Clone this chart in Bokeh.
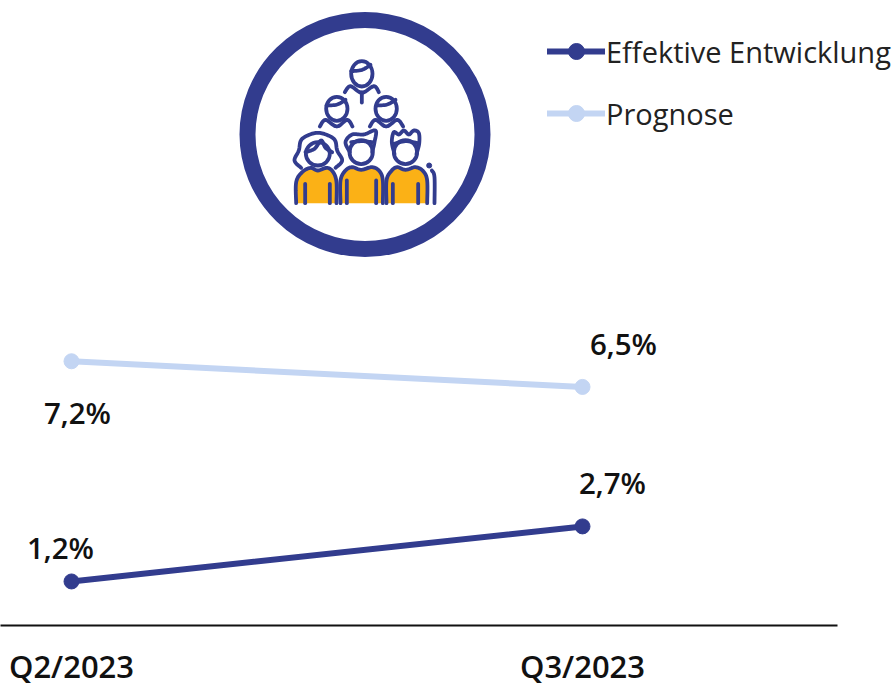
from bokeh.plotting import figure
from bokeh.models import Range1d, LinearAxis, FixedTicker, Legend, LegendItem, ColumnDataSource
from bokeh.core.properties import value
from bokeh.embed import file_html
from bokeh.resources import INLINE
import numpy as np

# ---- data
quarters = ["Q2/2023", "Q3/2023"]
x_pos = [0, 1]
effektiv = [1.2, 2.7]
prognose = [7.2, 6.5]
effektiv_labels = ["1,2%", "2,7%"]
prognose_labels = ["7,2%", "6,5%"]
effektiv_dx, effektiv_dy = [-11, 30], [-34, -44]
prognose_dx, prognose_dy = [6, 41], [51, -43]

NAVY, LIGHT, ORANGE = "#323C8E", "#C3D5F3", "#FBB116"
FONT = "Open Sans"
SEMI = "Open Sans SemiBold"

p = figure(frame_width=896, frame_height=625, output_backend="svg", toolbar_location=None,
           min_border=0, min_border_left=0, min_border_right=0, min_border_top=0,
           min_border_bottom=61, outline_line_color=None,
           x_range=Range1d(-71 / 511, (896 - 71) / 511), y_range=Range1d(0, 625 / 36.7),
           x_axis_location=None, y_axis_location=None)
p.grid.visible = False
p.extra_x_ranges["px"] = Range1d(0, 896)
p.extra_y_ranges["px"] = Range1d(625, 0)

ax = LinearAxis(ticker=FixedTicker(ticks=x_pos),
                major_label_overrides={i: q for i, q in zip(x_pos, quarters)},
                bounds=(-71 / 511, 766 / 511))
ax.major_tick_line_color = None
ax.minor_tick_line_color = None
ax.axis_line_color = "#111111"
ax.axis_line_width = 2
ax.major_label_standoff = 13
ax.major_label_text_font = SEMI
ax.major_label_text_font_size = "31px"
ax.major_label_text_color = "#111111"
p.add_layout(ax, "below")

# ---- icon, drawn in pixel space of the frame
def zx(v): return 230 + np.asarray(v, float) / 3
def zy(v): return 10 + np.asarray(v, float) / 3

def smooth(pts, closed=False, n=8):
    pts = np.asarray(pts, float)
    P = np.vstack([pts[0], pts, pts[-1]])
    out = []
    for i in range(1, len(P) - 2):
        a, b, c, d = P[i - 1], P[i], P[i + 1], P[i + 2]
        for t in np.linspace(0, 1, n, endpoint=False):
            out.append(0.5 * (2 * b + (c - a) * t + (2 * a - 5 * b + 4 * c - d) * t ** 2
                              + (3 * b - a - 3 * c + d) * t ** 3))
    out.append(P[-2])
    return np.array(out)

kw = dict(x_range_name="px", y_range_name="px")
p.ellipse(x=[364.5], y=[134], width=235, height=229, fill_color=None, line_color=NAVY, line_width=16, **kw)

bodies = [[(197, 578), (197, 515), (215, 485), (240, 472), (262, 480), (290, 472), (308, 485), (318, 515), (318, 578)],
          [(330, 578), (330, 510), (345, 480), (365, 470), (392, 478), (425, 470), (447, 482), (457, 510), (457, 578)],
          [(468, 578), (468, 510), (482, 482), (500, 470), (525, 478), (555, 470), (578, 482), (590, 510), (590, 578)]]
sm = [smooth(b) for b in bodies]
p.patches(xs=[list(zx(s[:, 0])) for s in sm], ys=[list(zy(s[:, 1])) for s in sm],
          fill_color=ORANGE, line_color=None, **kw)

strokes = bodies + [
    [(343, 245), (360, 227), (394, 247), (430, 227), (445, 245)],
    [(394, 245), (394, 276)],
    [(268, 348), (285, 328), (319, 348), (350, 328), (366, 348)],
    [(418, 348), (435, 328), (467, 348), (500, 328), (518, 348)],
    [(362, 182), (395, 178), (420, 163)],
    [(288, 285), (320, 282), (345, 268)],
    [(438, 285), (470, 282), (495, 268)],
    [(224, 520), (224, 578)], [(298, 520), (298, 578)],
    [(349, 510), (349, 578)], [(437, 510), (437, 578)],
    [(487, 520), (487, 578)], [(563, 520), (563, 578)],
    [(604, 480), (612, 500), (612, 578)],
    [(212, 472), (192, 450), (205, 420), (215, 385), (262, 367), (310, 385), (320, 420), (335, 450), (315, 472)],
    [(225, 425), (252, 415), (272, 390), (285, 412), (305, 425)],
    [(358, 425), (345, 395), (365, 372), (400, 372), (435, 360), (432, 395), (425, 425)],
    [(362, 395), (395, 392), (425, 395)],
    [(492, 430), (484, 395), (490, 365), (505, 372), (520, 360), (535, 372), (550, 360), (565, 368), (566, 400), (558, 430)],
    [(490, 400), (525, 392), (562, 398)],
]
ss = [smooth(s) if len(s) > 2 else np.array(s, float) for s in strokes]
p.multi_line(xs=[list(zx(s[:, 0])) for s in ss], ys=[list(zy(s[:, 1])) for s in ss],
             line_color=NAVY, line_width=3.8, line_cap="round", line_join="round", **kw)
heads = [(394, 190, 64, 76), (319, 295, 64, 72), (467, 295, 64, 72), (262, 430, 72, 70), (392, 425, 70, 72), (525, 425, 70, 72)]
p.ellipse(x=[float(zx(h[0])) for h in heads], y=[float(zy(h[1])) for h in heads],
          width=[h[2] / 3 for h in heads], height=[h[3] / 3 for h in heads],
          fill_color=None, line_color=NAVY, line_width=3.8, **kw)
p.scatter(x=[float(zx(596))], y=[float(zy(465))], size=5, color=NAVY, **kw)

# ---- series
def series(vals, labels, dx, dy, color):
    src = ColumnDataSource(dict(x=x_pos, y=vals, t=labels, dx=dx, dy=dy))
    l = p.line("x", "y", source=src, line_color=color, line_width=6, line_cap="round")
    m = p.scatter("x", "y", source=src, size=15, fill_color=color, line_color=color)
    p.text("x", "y", text="t", source=src, x_offset="dx", y_offset="dy",
           text_align="center", text_baseline="middle", text_color="#111111",
           text_font=value(SEMI), text_font_size="29.5px")
    return l, m

r1 = series(effektiv, effektiv_labels, effektiv_dx, effektiv_dy, NAVY)
r2 = series(prognose, prognose_labels, prognose_dx, prognose_dy, LIGHT)

leg = Legend(items=[LegendItem(label="Effektive Entwicklung", renderers=list(r1)),
                    LegendItem(label="Prognose", renderers=list(r2))],
             location=(547, 492), orientation="vertical", border_line_color=None,
             background_fill_color=None, background_fill_alpha=0, margin=0, padding=0,
             glyph_width=58, glyph_height=40, label_height=30, label_standoff=1, spacing=22,
             label_text_font=FONT, label_text_font_size="29px", label_text_color="#222222")
p.add_layout(leg, "center")

open("out.html", "w").write(file_html(p, INLINE))
